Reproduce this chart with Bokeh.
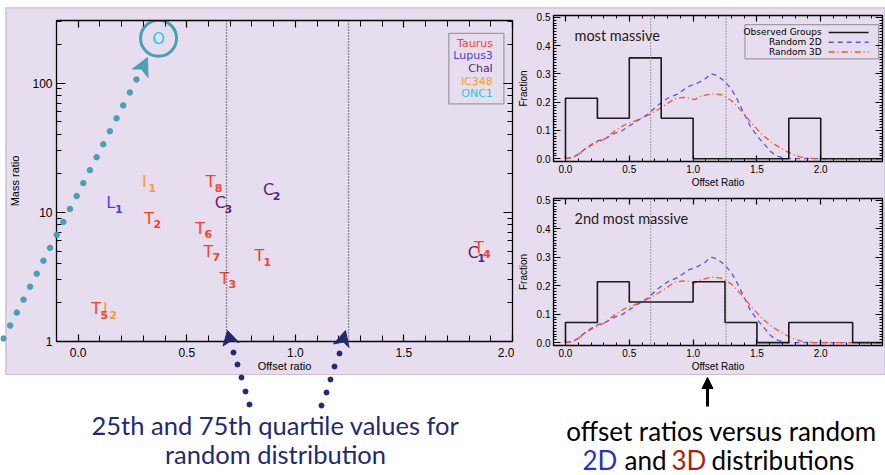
import numpy as np
from bokeh.plotting import figure
from bokeh.layouts import row, column, Spacer
from bokeh.models import (FixedTicker, NumeralTickFormatter, LinearAxis, LogAxis, Span, Label,
                          BoxAnnotation, Arrow, NormalHead, ColumnDataSource)
from bokeh.core.properties import value
from bokeh.embed import file_html
from bokeh.resources import INLINE

# ---------------- data ----------------
region_names = ["Taurus", "Lupus3", "ChaI", "IC348", "ONC1"]
region_colors = ["#ff3d1f", "#4a3cf2", "#5f1f7a", "#ff9a2e", "#22c8f2"]

group_region = ["ONC1", "IC348", "Taurus", "ChaI", "Lupus3", "ChaI", "Taurus", "Taurus",
                "Taurus", "Taurus", "Taurus", "ChaI", "Taurus", "Taurus", "IC348"]
group_letter = ["O", "I", "T", "C", "L", "C", "T", "T", "T", "T", "T", "C", "T", "T", "I"]
group_index = ["", "1", "8", "2", "1", "3", "2", "6", "7", "1", "3", "1", "4", "5", "2"]
offset_ratio = [0.37, 0.305, 0.61, 0.877, 0.15, 0.655, 0.327, 0.562, 0.599, 0.834, 0.673,
                1.82, 1.845, 0.083, 0.125]
mass_ratio = [222, 17.3, 17.3, 15.0, 11.9, 11.9, 9.0, 7.5, 5.0, 4.6, 3.1, 4.9, 5.3, 1.8, 1.8]

quartiles_scatter = [0.683, 1.245]
quartiles_hist = [0.667, 1.258]

scatter_xticks = [0.0, 0.5, 1.0, 1.5, 2.0]
scatter_yticks = [1, 10, 100]
hist_xticks = [0.0, 0.5, 1.0, 1.5, 2.0, 2.5]
hist_yticks = [0.0, 0.1, 0.2, 0.3, 0.4, 0.5]

bin_edges = [0.0, 0.25, 0.5, 0.75, 1.0, 1.25, 1.5, 1.75, 2.0, 2.25, 2.5]
frac_most = [0.214, 0.143, 0.357, 0.143, 0.0, 0.0, 0.0, 0.143, 0.0, 0.0]
frac_second = [0.071, 0.214, 0.143, 0.143, 0.214, 0.071, 0.0, 0.071, 0.071, 0.0]

rand2d_x = [0.0, 0.05, 0.10, 0.16, 0.24, 0.32, 0.385, 0.44, 0.49, 0.57, 0.65, 0.72, 0.80,
            0.88, 0.96, 1.04, 1.09, 1.14, 1.19, 1.245, 1.30, 1.35, 1.40, 1.45, 1.505, 1.56,
            1.61, 1.66, 1.73, 1.85, 2.0, 2.2, 2.5]
rand2d_y = [0.0, 0.003, 0.015, 0.038, 0.061, 0.073, 0.090, 0.098, 0.113, 0.136, 0.159, 0.188,
            0.214, 0.229, 0.255, 0.269, 0.281, 0.301, 0.294, 0.275, 0.246, 0.206, 0.159, 0.113,
            0.079, 0.050, 0.024, 0.009, 0.0, 0.0, 0.0, 0.0, 0.0]
rand3d_x = [0.0, 0.07, 0.15, 0.23, 0.31, 0.385, 0.46, 0.54, 0.62, 0.70, 0.78, 0.85, 0.92,
            0.97, 1.01, 1.06, 1.14, 1.22, 1.30, 1.375, 1.45, 1.53, 1.61, 1.69, 1.77, 1.84,
            1.95, 2.1, 2.3, 2.5]
rand3d_y = [0.0, 0.006, 0.032, 0.055, 0.070, 0.098, 0.119, 0.133, 0.148, 0.167, 0.190, 0.211,
            0.217, 0.215, 0.209, 0.221, 0.230, 0.227, 0.206, 0.171, 0.130, 0.090, 0.059,
            0.036, 0.017, 0.006, 0.0, 0.0, 0.0, 0.0]

# ---------------- styling ----------------
LAV = "#e6ddee"
TEAL = "#4a9fb3"
NAVY = "#1f2a70"
BLUE = "#5a52f0"
RED = "#ff5230"
TICKFONT = "Liberation Sans"


def sx(px):  # reference page pixel -> scatter data (legend placement only)
    return (px - 78.0) / 216.8


def sy(py):
    return 10 ** ((343.0 - py) / 130.0)


def hx(px):
    return (px - 564.0) / 128.0


def style_axis(ax, ticks, minor, maj_in, min_in, labels=True, fmt="0.0", size="12px",
               standoff=4):
    ax.ticker = FixedTicker(ticks=ticks, minor_ticks=minor)
    ax.major_tick_in = maj_in
    ax.major_tick_out = 0
    ax.minor_tick_in = min_in
    ax.minor_tick_out = 0
    ax.axis_line_color = "black"
    ax.axis_line_width = 1.3
    ax.major_tick_line_color = "black"
    ax.minor_tick_line_color = "black"
    ax.major_tick_line_width = 1.2
    ax.minor_tick_line_width = 1.0
    if labels:
        ax.formatter = NumeralTickFormatter(format=fmt)
        ax.major_label_text_font = TICKFONT
        ax.major_label_text_font_size = size
        ax.major_label_text_color = "black"
        ax.major_label_standoff = standoff
    else:
        ax.major_label_text_font_size = "1px"
        ax.major_label_text_alpha = 0
        ax.major_label_standoff = 0
    ax.axis_label_text_font = TICKFONT
    ax.axis_label_text_font_style = "normal"
    ax.axis_label_text_color = "black"


# ---------------- scatter panel ----------------
p = figure(width=509, height=367, x_range=(-0.1, 2.0), y_range=(1, 305), y_axis_type="log",
           output_backend="svg", toolbar_location=None,
           min_border_left=51, min_border_right=2, min_border_top=13, min_border_bottom=31,
           background_fill_color=LAV, border_fill_color=LAV, outline_line_color="black")
p.grid.visible = False

x_minor = list(np.round(np.arange(-0.1, 2.001, 0.1), 2))
y_minor = [2, 3, 4, 5, 6, 7, 8, 9, 20, 30, 40, 50, 60, 70, 80, 90, 200, 300]

style_axis(p.xaxis[0], scatter_xticks, x_minor, 7, 6, fmt="0.0", size="12px", standoff=6)
p.xaxis[0].axis_label = "Offset ratio"
p.xaxis[0].axis_label_text_font_size = "11px"
p.xaxis[0].axis_label_standoff = 0
style_axis(p.yaxis[0], scatter_yticks, y_minor, 9, 5, fmt="0", size="12px", standoff=4)
p.yaxis[0].axis_label = "Mass ratio"
p.yaxis[0].axis_label_text_font_size = "11px"
p.yaxis[0].axis_label_standoff = 8

top_ax = LinearAxis()
style_axis(top_ax, scatter_xticks, x_minor, 7, 6, labels=False)
p.add_layout(top_ax, "above")
right_ax = LogAxis()
style_axis(right_ax, scatter_yticks, y_minor, 9, 5, labels=False)
p.add_layout(right_ax, "right")

for q in quartiles_scatter:
    p.add_layout(Span(location=q, dimension="height", line_color="#333333",
                      line_dash="1 2", line_width=1.3))

colors = [region_colors[region_names.index(r)] for r in group_region]
src = ColumnDataSource(dict(x=offset_ratio, y=mass_ratio, letter=group_letter,
                            idx=group_index, color=colors))
p.text("x", "y", text="letter", source=src, text_color="color",
       text_font=value("DejaVu Sans"), text_font_size="16px",
       text_align="center", text_baseline="middle")
p.text("x", "y", text="idx", source=src, text_color="color",
       text_font=value("DejaVu Sans"), text_font_size="11px", text_font_style="bold",
       text_align="center", text_baseline="middle", x_offset=8, y_offset=6)

# circle around ONC1
p.scatter(x=offset_ratio[:1], y=mass_ratio[:1], marker="circle", size=36,
          fill_color=None, line_color=TEAL, line_width=3)

# region legend
p.add_layout(BoxAnnotation(left=sx(448), right=sx(503), top=sy(33), bottom=sy(104),
                           fill_color=None, line_color="black", line_width=1.3))
for i, (nm, c) in enumerate(zip(region_names, region_colors)):
    p.add_layout(Label(x=sx(492), y=sy(43 + 12.7 * i), text=nm, text_color=c,
                       text_font="DejaVu Sans", text_font_size="11px",
                       text_align="right", text_baseline="middle"))


# ---------------- histogram panels ----------------
def make_hist(frac, title, height, top, bottom, zero_py, legend):
    f = figure(width=371, height=height, x_range=(-0.094, 2.484), y_range=(-0.01, 0.507),
               output_backend="svg", toolbar_location=None,
               min_border_left=38, min_border_right=3, min_border_top=top,
               min_border_bottom=bottom,
               background_fill_color=LAV, border_fill_color=LAV, outline_line_color="black")
    f.grid.visible = False
    hx_minor = list(np.round(np.arange(-0.0, 2.501, 0.1), 2))
    hy_minor = list(np.round(np.arange(0.0, 0.5001, 0.01), 3))
    style_axis(f.xaxis[0], hist_xticks, hx_minor, 6, 3, fmt="0.0", size="10px", standoff=3)
    f.xaxis[0].axis_label = "Offset Ratio"
    f.xaxis[0].axis_label_text_font_size = "10px"
    f.xaxis[0].axis_label_standoff = 1
    style_axis(f.yaxis[0], hist_yticks, hy_minor, 7, 3, fmt="0.0", size="10px", standoff=3)
    f.yaxis[0].axis_label = "Fraction"
    f.yaxis[0].axis_label_text_font_size = "10px"
    f.yaxis[0].axis_label_standoff = 5
    ta = LinearAxis()
    style_axis(ta, hist_xticks, hx_minor, 6, 3, labels=False)
    f.add_layout(ta, "above")
    ra = LinearAxis()
    style_axis(ra, hist_yticks, hy_minor, 7, 3, labels=False)
    f.add_layout(ra, "right")

    for q in quartiles_hist:
        f.add_layout(Span(location=q, dimension="height", line_color="#707070",
                          line_dash="1 2", line_width=1.2))
    f.line(rand2d_x, rand2d_y, line_color=BLUE, line_dash="5 4", line_width=1.3)
    f.line(rand3d_x, rand3d_y, line_color=RED, line_dash="6 3 1 3", line_width=1.3)
    edges = np.array(bin_edges)
    xs = np.repeat(edges, 2)
    ys = np.concatenate([[0.0], np.repeat(np.array(frac), 2), [0.0]])
    f.line(xs, ys, line_color="#1a1a1a", line_width=1.6)

    def hy(py):
        return (zero_py - py) / 288.7

    f.add_layout(Label(x=hx(573), y=hy(zero_py - 126), text=title, text_font="Lato",
                       text_font_size="14.5px", text_color="#222222",
                       text_baseline="middle"))
    if legend:
        f.add_layout(BoxAnnotation(left=hx(744), right=hx(878), top=hy(24), bottom=hy(59),
                                   fill_color=None, line_color="black", line_width=1.2))
        entries = [("Observed Groups", "#1a1a1a", None), ("Random 2D", BLUE, "5 4"),
                   ("Random 3D", RED, "6 3 1 3")]
        for i, (nm, c, d) in enumerate(entries):
            yy = hy(32 + 10 * i)
            f.add_layout(Label(x=hx(821), y=yy, text=nm, text_color="black",
                               text_font="DejaVu Sans", text_font_size="9px",
                               text_align="right", text_baseline="middle"))
            f.line([hx(828), hx(868)], [yy, yy], line_color=c, line_width=1.5,
                   line_dash=d if d else "solid")
    return f


h1 = make_hist(frac_most, "most massive", 183, 8, 26, 161.0, True)
h2 = make_hist(frac_second, "2nd most massive", 184, 8, 27, 344.3, False)

# ---------------- annotation strip (texts) ----------------
b = figure(width=885, height=101, x_range=(0, 885), y_range=(475, 374),
           output_backend="svg", toolbar_location=None, min_border=0,
           x_axis_location=None, y_axis_location=None,
           background_fill_color="white", border_fill_color="white", outline_line_color=None)
b.grid.visible = False
b.add_layout(Arrow(x_start=707, y_start=406, x_end=707, y_end=377, line_color="black",
                   line_width=3, end=NormalHead(size=11, fill_color="black",
                                                line_color="black")))
FONT = "Lato"
b.add_layout(Label(x=275, y=424, text="25th and 75th quartile values for", text_font=FONT,
                   text_font_size="25.5px", text_color=NAVY, text_align="center",
                   text_baseline="middle"))
b.add_layout(Label(x=275, y=453, text="random distribution", text_font=FONT,
                   text_font_size="25.5px", text_color=NAVY, text_align="center",
                   text_baseline="middle"))
b.add_layout(Label(x=721, y=430, text="offset ratios versus random", text_font=FONT,
                   text_font_size="26px", text_color="black", text_align="center",
                   text_baseline="middle"))
for tx, xx, cc in [("2D", 582, "#2b33b4"), ("and", 624, "black"), ("3D", 671, "#a8230f"),
                   ("distributions", 711, "black")]:
    b.add_layout(Label(x=xx, y=459, text=tx, text_font=FONT, text_font_size="26px",
                       text_color=cc, text_align="left", text_baseline="middle"))

# ---------------- transparent overlay for the slide's dotted arrows ----------------
ov = figure(width=885, height=475, x_range=(0, 885), y_range=(475, 0),
            output_backend="svg", toolbar_location=None, min_border=0,
            x_axis_location=None, y_axis_location=None,
            background_fill_color=None, border_fill_color=None, outline_line_color=None,
            styles={"position": "absolute", "left": "0px", "top": "0px",
                    "pointer-events": "none"})
ov.grid.visible = False
# thin border of the lavender panel
ov.quad(left=5.5, right=884.5, top=7.5, bottom=374, fill_color=None,
        line_color="#c9bed4", line_width=1.2)
teal_x = np.linspace(3, 136, 21)
teal_y = np.linspace(338, 79, 21)
ov.scatter(teal_x, teal_y, size=5.5, color=TEAL)
ov.patch([147, 132, 141, 147.5], [57, 68.5, 68.5, 77], color=TEAL)
navy_x = [233, 237, 241, 245, 249, 339, 334, 330, 326, 321]
navy_y = [352, 364, 377, 391, 404, 353, 366, 379, 392, 405]
ov.scatter(navy_x, navy_y, size=5, color=NAVY)
ov.patch([227, 238.5, 231, 222.5], [330, 342, 340, 345.5], color=NAVY)
ov.patch([345, 348.5, 343, 333], [330, 347, 341.5, 343.5], color=NAVY)

panel = row(p, column(h1, h2, styles={"background-color": LAV}),
            styles={"background-color": LAV})
layout = column(Spacer(width=885, height=7),
                row(Spacer(width=5, height=367), panel),
                b, ov)
open("out.html", "w").write(file_html(layout, INLINE, "chart"))
